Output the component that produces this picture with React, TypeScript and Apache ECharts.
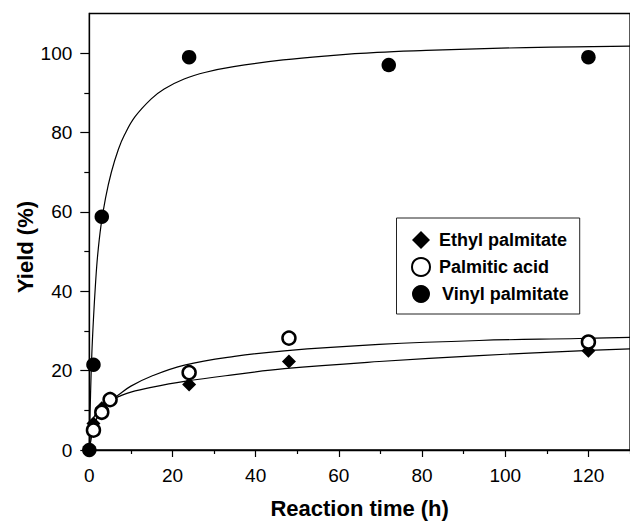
import React, { useEffect, useRef } from "react";
import * as echarts from "echarts";

// Measured data points (time h, yield %)
const ethylTime = [0, 1, 3, 5, 24, 48, 120];
const ethylYield = [0, 6.7, 10.5, 13, 16.5, 22.3, 25];
const palmiticTime = [1, 3, 5, 24, 48, 120];
const palmiticYield = [5, 9.5, 12.7, 19.5, 28.2, 27.2];
const vinylTime = [0, 1, 3, 24, 72, 120];
const vinylYield = [0, 21.5, 58.8, 99, 97, 99];

// Fitted curves
const vinylFitTime = [0, 0.3, 0.6, 1, 1.5, 2, 2.8, 3.9, 5.3, 7, 8.5, 11, 14.9, 18, 22.8, 28, 34.7, 46.6, 58, 69.2, 81, 93, 105, 116.8, 130];
const vinylFitYield = [0, 14, 24, 33, 42, 49, 56.5, 63.5, 70, 75.8, 79.5, 84, 88.5, 91, 93.5, 95.2, 96.6, 98.3, 99.4, 100.2, 100.7, 101.1, 101.4, 101.6, 101.8];
const palmiticFitTime = [0, 1, 2, 3, 5, 6.9, 10, 14.9, 22.9, 34.9, 46.9, 69.7, 93.7, 117.7, 130];
const palmiticFitYield = [0, 5.5, 8.5, 10.4, 12.4, 13.8, 16.1, 18.6, 21.4, 23.6, 25, 26.6, 27.6, 28.1, 28.4];
const ethylFitTime = [0, 0.5, 1, 2, 3, 5, 6.9, 10, 14.9, 22.9, 34.9, 46.9, 69.7, 93.7, 117.7, 130];
const ethylFitYield = [0, 6, 8, 10, 11.2, 12.6, 13.4, 14.6, 15.8, 17.3, 19, 20.5, 22.3, 23.8, 25, 25.5];

const xMajor = [0, 20, 40, 60, 80, 100, 120];
const xMinor = [10, 30, 50, 70, 90, 110, 130];
const yMajor = [0, 20, 40, 60, 80, 100];
const yMinor = [10, 30, 50, 70, 90];

const names = ["Ethyl palmitate", "Palmitic acid", "Vinyl palmitate"];

const FONT = 'Arial, "Liberation Sans", sans-serif';

const zip = (a: number[], b: number[]) => a.map((v, i) => [v, b[i]]);

export default function App() {
  const ref = useRef<HTMLDivElement>(null);
  useEffect(() => {
    if (!ref.current) return;
    const chart = echarts.init(ref.current, undefined, { renderer: "svg" });
    const axisLine = { show: true, lineStyle: { color: "#000", width: 1.3 } };
    const lineSeries = (name: string, t: number[], y: number[]) => ({
      name,
      type: "line",
      data: zip(t, y),
      showSymbol: false,
      smooth: 0.4,
      lineStyle: { color: "#000", width: 1.2 },
      z: 1,
      silent: true,
    });
    chart.setOption({
      animation: false,
      backgroundColor: "#fff",
      grid: {
        left: 89.3,
        top: 13.5,
        right: -1.6,
        bottom: 69.3,
        show: true,
        borderColor: "#000",
        borderWidth: 1.3,
        backgroundColor: "transparent",
      },
      xAxis: [
        {
          type: "value",
          min: 0,
          max: 130,
          position: "bottom",
          axisLine,
          axisTick: { show: true, customValues: xMajor, length: 7, lineStyle: { color: "#000", width: 1.2 } },
          axisLabel: { customValues: xMajor, margin: 16, fontSize: 19, color: "#000", fontFamily: FONT },
          splitLine: { show: false },
          name: "Reaction time (h)",
          nameLocation: "middle",
          nameGap: 47,
          nameTextStyle: { fontSize: 22, fontWeight: "bold", color: "#000", fontFamily: FONT },
        },
        {
          type: "value",
          min: 0,
          max: 130,
          position: "bottom",
          axisLine: { show: false },
          axisTick: { show: true, customValues: xMinor, length: 4, lineStyle: { color: "#000", width: 1.2 } },
          axisLabel: { show: false },
          splitLine: { show: false },
        },
      ],
      yAxis: [
        {
          type: "value",
          min: 0,
          max: 110,
          position: "left",
          axisLine,
          axisTick: { show: true, customValues: yMajor, length: 9, lineStyle: { color: "#000", width: 1.2 } },
          axisLabel: { customValues: yMajor, margin: 17, fontSize: 19, color: "#000", fontFamily: FONT },
          splitLine: { show: false },
        },
        {
          type: "value",
          min: 0,
          max: 110,
          position: "left",
          axisLine: { show: false },
          axisTick: { show: true, customValues: yMinor, length: 5, lineStyle: { color: "#000", width: 1.2 } },
          axisLabel: { show: false },
          splitLine: { show: false },
        },
      ],
      legend: {
        orient: "vertical",
        left: 396.5,
        top: 218,
        padding: [13, 11, 11, 14.5],
        itemWidth: 18,
        itemHeight: 18,
        itemGap: 8,
        borderColor: "#222",
        borderWidth: 1,
        backgroundColor: "#fff",
        textStyle: { fontSize: 18, fontWeight: "bold", color: "#000", fontFamily: FONT, lineHeight: 18, padding: [0, 0, 0, 4] },
        data: [
          { name: names[0] },
          { name: names[1] },
          { name: names[2], textStyle: { padding: [0, 0, 0, 7] } },
        ],
      },
      graphic: [
        {
          type: "text",
          x: 25,
          y: 247,
          rotation: Math.PI / 2,
          style: {
            text: "Yield (%)",
            fontSize: 22,
            fontWeight: "bold",
            fontFamily: FONT,
            fill: "#000",
            align: "center",
            verticalAlign: "middle",
          },
        },
      ],
      series: [
        lineSeries("Vinyl fit", vinylFitTime, vinylFitYield),
        lineSeries("Palmitic fit", palmiticFitTime, palmiticFitYield),
        lineSeries("Ethyl fit", ethylFitTime, ethylFitYield),
        {
          name: names[0],
          type: "scatter",
          data: zip(ethylTime, ethylYield),
          symbol: "diamond",
          symbolSize: 14,
          itemStyle: { color: "#000", opacity: 1 },
          z: 3,
        },
        {
          name: names[1],
          type: "scatter",
          data: zip(palmiticTime, palmiticYield),
          symbol: "circle",
          symbolSize: 13,
          itemStyle: { color: "#fff", borderColor: "#000", borderWidth: 2.5, opacity: 1 },
          z: 4,
        },
        {
          name: names[2],
          type: "scatter",
          data: zip(vinylTime, vinylYield),
          symbol: "circle",
          symbolSize: 14.5,
          itemStyle: { color: "#000", opacity: 1 },
          z: 5,
        },
      ],
    });
    return () => chart.dispose();
  }, []);
  return (
    <div
      ref={ref}
      style={{ position: "absolute", left: 0, top: 0, width: 630, height: 524 }}
    />
  );
}
